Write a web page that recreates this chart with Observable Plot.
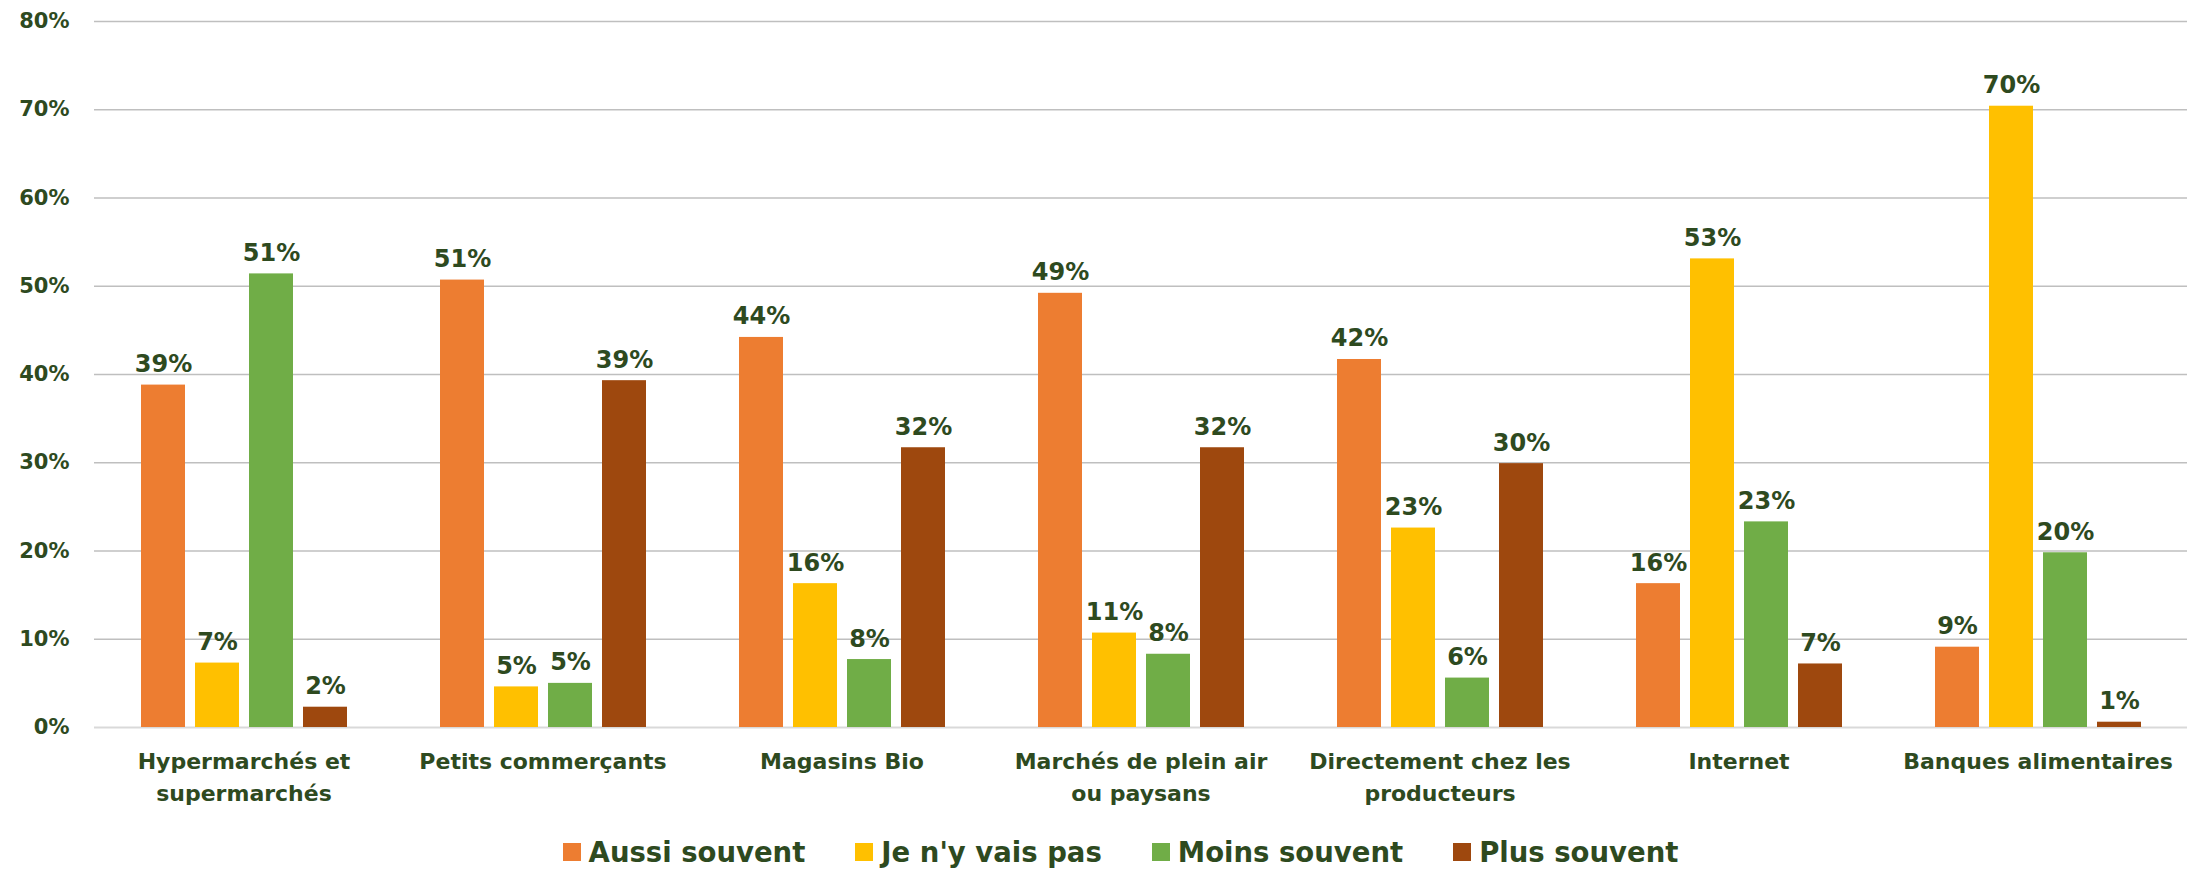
<!DOCTYPE html>
<html>
<head>
<meta charset="utf-8">
<script src="https://cdn.jsdelivr.net/npm/d3@7"></script>
<script src="https://cdn.jsdelivr.net/npm/@observablehq/plot@0.6"></script>
<style>
  html, body { margin: 0; padding: 0; background: #fff; }
  body { width: 2211px; font-family: "DejaVu Sans", sans-serif; }
  #legend { display: flex; justify-content: center; align-items: center; gap: 50px; height: 44px; margin-left: 30px;
            font-weight: 700; font-size: 27.5px; color: #2E4A1F; }
  #legend .item { display: flex; align-items: center; gap: 8px; }
  #legend .sw { width: 18px; height: 18px; display: inline-block; }
</style>
</head>
<body>
<div id="chart"></div>
<div id="legend"></div>
<script>
const categories = [
  "Hypermarchés et supermarchés",
  "Petits commerçants",
  "Magasins Bio",
  "Marchés de plein air ou paysans",
  "Directement chez les producteurs",
  "Internet",
  "Banques alimentaires"
];
const categoryLabels = [
  "Hypermarchés et\nsupermarchés",
  "Petits commerçants",
  "Magasins Bio",
  "Marchés de plein air\nou paysans",
  "Directement chez les\nproducteurs",
  "Internet",
  "Banques alimentaires"
];
const series = ["Aussi souvent", "Je n'y vais pas", "Moins souvent", "Plus souvent"];
const colors = ["#ED7D31", "#FFC000", "#70AD47", "#9E480E"];
const aussiSouvent = [38.8, 50.7, 44.2, 49.2, 41.7, 16.3, 9.1];
const jeNyVaisPas  = [7.3, 4.6, 16.3, 10.7, 22.6, 53.1, 70.4];
const moinsSouvent = [51.4, 5.0, 7.7, 8.3, 5.6, 23.3, 19.8];
const plusSouvent  = [2.3, 39.3, 31.7, 31.7, 29.9, 7.2, 0.6];
const yTicks = [0, 10, 20, 30, 40, 50, 60, 70, 80];

const seriesValues = [aussiSouvent, jeNyVaisPas, moinsSouvent, plusSouvent];
const data = [];
categories.forEach((c, i) => {
  series.forEach((s, j) => data.push({category: c, series: s, value: seriesValues[j][i]}));
});
const labelOf = new Map(categories.map((c, i) => [c, categoryLabels[i]]));
const textColor = "#2E4A1F";

const chart = Plot.plot({
  width: 2211,
  height: 830,
  marginTop: 21,
  marginBottom: 103,
  marginLeft: 91,
  marginRight: 21,
  style: {fontFamily: "'DejaVu Sans', sans-serif", fontWeight: 700, color: textColor, background: "#fff"},
  fx: {domain: categories, padding: 0, label: null, axis: null},
  x: {domain: series, paddingInner: 0.194, paddingOuter: 0.845, axis: null},
  y: {domain: [0, 80], label: null},
  color: {domain: series, range: colors},
  marks: [
    Plot.gridY(yTicks.slice(1), {stroke: "#BFBFBF", strokeOpacity: 1, strokeWidth: 1.5}),
    Plot.ruleY([0], {stroke: "#D9D9D9", strokeWidth: 2}),
    Plot.axisY(yTicks, {tickSize: 0, tickPadding: 25, fontSize: 21, fontWeight: 700, fill: textColor,
      tickFormat: d => d + "%"}),
    Plot.axisFx({anchor: "bottom", tickSize: 0, tickPadding: 19, fontSize: 22, fontWeight: 700, fill: textColor,
      lineAnchor: "top", lineHeight: 1.45, tickFormat: d => labelOf.get(d), label: null}),
    Plot.barY(data, {fx: "category", x: "series", y: "value", fill: "series"}),
    Plot.text(data, {fx: "category", x: "series", y: "value", text: d => Math.round(d.value) + "%",
      lineAnchor: "bottom", dy: -13, fontSize: 24, fontWeight: 700, fill: textColor})
  ]
});
document.getElementById("chart").appendChild(chart);

const legend = document.getElementById("legend");
series.forEach((s, i) => {
  const item = document.createElement("div");
  item.className = "item";
  const sw = document.createElement("span");
  sw.className = "sw";
  sw.style.background = colors[i];
  const t = document.createElement("span");
  t.textContent = s;
  item.appendChild(sw);
  item.appendChild(t);
  legend.appendChild(item);
});
</script>
</body>
</html>
